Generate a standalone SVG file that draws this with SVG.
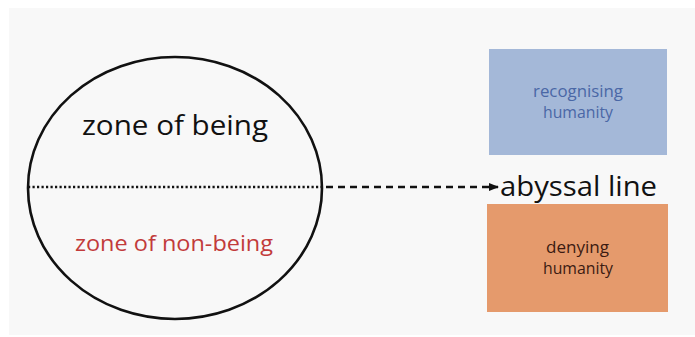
<svg xmlns="http://www.w3.org/2000/svg" width="695" height="337" viewBox="0 0 695 337">
  <style>
    text { font-family: "Open Sans", Lato, "Liberation Sans", sans-serif; text-anchor: middle; }
    .big { font-size: 28px; fill: #111; }
    .box { font-size: 16px; }
  </style>
  <defs>
    <marker id="arrow" markerWidth="10" markerHeight="8" refX="9" refY="4" orient="auto" markerUnits="userSpaceOnUse">
      <path d="M0,0 L10,4 L0,8 Z" fill="#111"/>
    </marker>
  </defs>
  <rect x="0" y="0" width="695" height="337" fill="#ffffff"/>
  <rect x="9" y="8" width="686" height="327" fill="#f8f8f8"/>

  <g id="world">
    <ellipse cx="175" cy="188" rx="147" ry="131" fill="none" stroke="#111" stroke-width="2.6"/>
    <text class="big" x="175" y="135" textLength="186" lengthAdjust="spacingAndGlyphs">zone of being</text>
    <text x="174" y="251" font-size="22.5" fill="#c23b3b" textLength="198" lengthAdjust="spacingAndGlyphs">zone of non-being</text>
  </g>

  <g id="connectors">
    <line x1="28" y1="187" x2="322" y2="187" stroke="#111" stroke-width="2.6" stroke-dasharray="2.2 2.3"/>
    <line x1="326" y1="187" x2="498" y2="187" stroke="#111" stroke-width="2.4" stroke-dasharray="7 5" marker-end="url(#arrow)"/>
  </g>

  <g id="abyssal">
    <text class="big" x="578.5" y="196" textLength="157" lengthAdjust="spacingAndGlyphs">abyssal line</text>
  </g>

  <g id="recognising">
    <rect x="489" y="49" width="178" height="106" fill="#a4b8d8"/>
    <text class="box" x="578" y="97" fill="#4a67a6" textLength="90" lengthAdjust="spacingAndGlyphs">recognising</text>
    <text class="box" x="578" y="118" fill="#4a67a6" textLength="70" lengthAdjust="spacingAndGlyphs">humanity</text>
  </g>

  <g id="denying">
    <rect x="487" y="204" width="181" height="108" fill="#e59a6c"/>
    <text class="box" x="577.5" y="253" fill="#3b1a12" textLength="63" lengthAdjust="spacingAndGlyphs">denying</text>
    <text class="box" x="578" y="274" fill="#3b1a12" textLength="70" lengthAdjust="spacingAndGlyphs">humanity</text>
  </g>
</svg>
